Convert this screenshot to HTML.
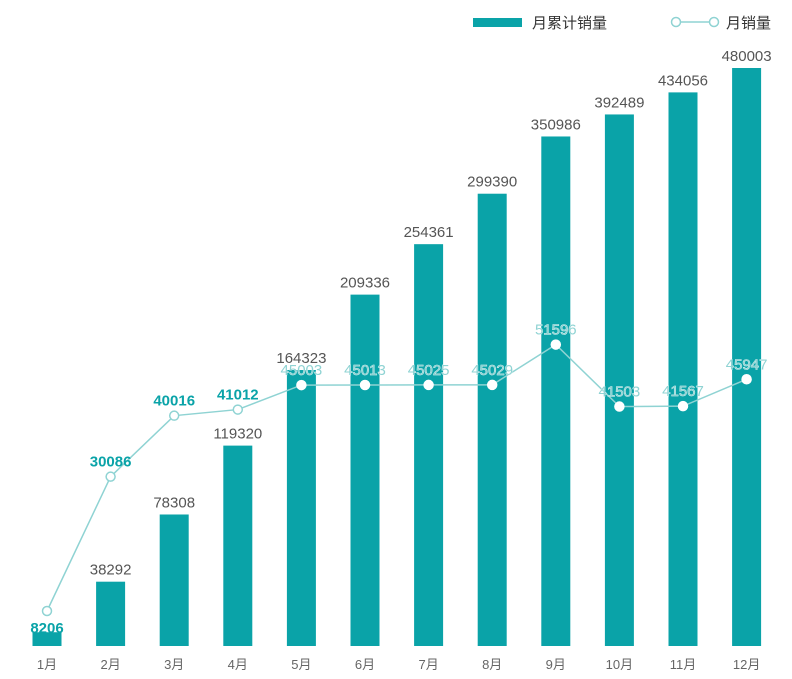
<!DOCTYPE html>
<html><head><meta charset="utf-8">
<style>
html,body{margin:0;padding:0;background:#fff;}
svg{display:block;font-family:"Liberation Sans","Noto Sans CJK SC",sans-serif;}
</style></head>
<body>
<svg id="chart" width="792" height="679" viewBox="0 0 792 679" xmlns="http://www.w3.org/2000/svg">
  <g>
    <rect x="473" y="18" width="49" height="9" fill="#0aa3a8"/>
    <text x="532" y="28" font-size="15" fill="#333">月累计销量</text>
    <line x1="680" y1="22" x2="710" y2="22" stroke="#8fd3d3" stroke-width="1.5"/>
    <circle cx="676" cy="22" r="4.5" fill="#fff" stroke="#8fd3d3" stroke-width="1.5"/>
    <circle cx="714" cy="22" r="4.5" fill="#fff" stroke="#8fd3d3" stroke-width="1.5"/>
    <text x="726" y="28" font-size="15" fill="#333">月销量</text>
  </g>
  <g id="bars"></g>
  <g id="line"></g>
  <g id="xaxis"></g>
</svg>
<script>
const months = ["1月","2月","3月","4月","5月","6月","7月","8月","9月","10月","11月","12月"];
const cumulative = [8206,38292,78308,119320,164323,209336,254361,299390,350986,392489,434056,480003];
const monthly = [8206,30086,40016,41012,45003,45013,45025,45029,51596,41503,41567,45947];

const NS = "http://www.w3.org/2000/svg";
const baseY = 646;
const x0 = 47, step = 63.6, barW = 29;
function xPos(i){ return x0 + i*step; }
// piecewise-linear bar scale (matches reference rendering)
const bDom = [0,209000,350000,480003], bRng = [0,351,509,578];
function barH(v){
  for(let k=1;k<bDom.length;k++){
    if(v<=bDom[k]||k===bDom.length-1){
      return bRng[k-1]+(v-bDom[k-1])/(bDom[k]-bDom[k-1])*(bRng[k]-bRng[k-1]);
    }
  }
}
function lineY(v){ return 611 - (v-8206)*0.00614; }

function mk(tag, attrs, parent){
  const e = document.createElementNS(NS, tag);
  for(const k in attrs) e.setAttribute(k, attrs[k]);
  parent.appendChild(e); return e;
}
const gB = document.getElementById("bars");
const gL = document.getElementById("line");
const gX = document.getElementById("xaxis");

cumulative.forEach((v,i)=>{
  const h = Math.max(7, barH(v));
  const r = mk("rect",{x:xPos(i)-barW/2,y:baseY-h,width:barW,height:h,fill:"#0aa3a8"},gB);
  
  
  if(i>0){
    const t = mk("text",{x:xPos(i),y:baseY-h-7,"text-anchor":"middle","font-size":"15",fill:"#555"},gB);
    
    
    t.textContent = v;
  }
  const m = mk("text",{x:xPos(i),y:669,"text-anchor":"middle","font-size":"13",fill:"#666"},gX);
  
  
  m.textContent = months[i];
});

const pts = monthly.map((v,i)=>[xPos(i), lineY(v)]);
const pl = mk("polyline",{points:pts.map(p=>p.join(",")).join(" "),fill:"none",stroke:"#8fd3d3","stroke-width":"1.5"},gL);


monthly.forEach((v,i)=>{
  const [x,y] = pts[i];
  const c = mk("circle",{cx:x,cy:y,r:4.5,fill:"#fff",stroke:i<4?"#8fd3d3":"#fff","stroke-width":"1.5"},gL);
  
  
  const bold = i<4;
  let ty = y-10;
  if(i===0) ty = 633;
  const t = mk("text",{x:x,y:ty,"text-anchor":"middle","font-size":"15","font-weight":bold?"bold":"normal",
    fill:bold?"#0aa3a8":"#8fd3d3",stroke:bold?"none":"#ffffff","stroke-width":bold?"0":"0.6","paint-order":"stroke"},gL);
  
  
  t.textContent = v;
});
</script>
</body></html>
